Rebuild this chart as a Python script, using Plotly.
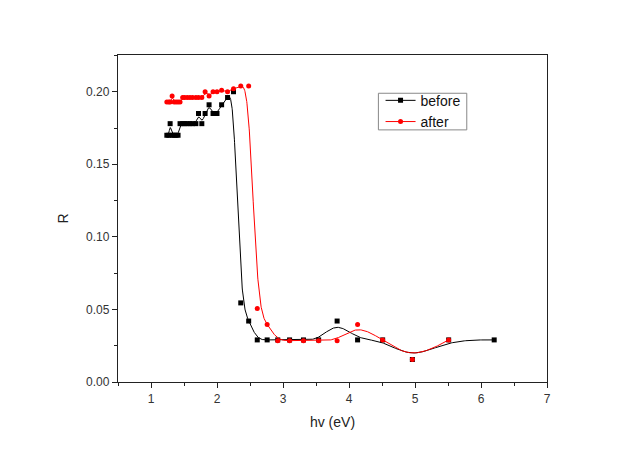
import numpy as np
import plotly.graph_objects as go

# Photon energy (eV) of each measured point
hv_before = [1.24, 1.27, 1.29, 1.32, 1.35, 1.38, 1.41, 1.44, 1.48, 1.51, 1.55, 1.59,
             1.63, 1.68, 1.72, 1.77, 1.82, 1.88, 1.94, 2.00, 2.07, 2.16, 2.25, 2.36,
             2.48, 2.61, 2.76, 2.92, 3.10, 3.31, 3.54, 3.82, 4.13, 4.51, 4.96, 5.51, 6.20]
R_before = [0.170, 0.170, 0.178, 0.170, 0.170, 0.170, 0.170, 0.178, 0.178, 0.178, 0.178, 0.178,
            0.178, 0.178, 0.185, 0.178, 0.185, 0.191, 0.185, 0.185, 0.191, 0.196, 0.200, 0.0545,
            0.042, 0.029, 0.029, 0.029, 0.029, 0.029, 0.029, 0.042, 0.029, 0.029, 0.0155, 0.029, 0.029]

hv_after = [1.24, 1.27, 1.29, 1.32, 1.35, 1.38, 1.41, 1.44, 1.48, 1.51, 1.55, 1.59,
            1.63, 1.68, 1.72, 1.77, 1.82, 1.88, 1.94, 2.00, 2.07, 2.16, 2.25, 2.36,
            2.48, 2.61, 2.76, 2.92, 3.10, 3.31, 3.54, 3.82, 4.13, 4.51, 4.96, 5.51]
R_after = [0.193, 0.193, 0.193, 0.197, 0.193, 0.193, 0.193, 0.193, 0.196, 0.196, 0.196, 0.196,
           0.196, 0.196, 0.196, 0.196, 0.200, 0.197, 0.200, 0.200, 0.201, 0.200, 0.202, 0.204,
           0.204, 0.0506, 0.0396, 0.0285, 0.0285, 0.0285, 0.0285, 0.0285, 0.0396, 0.029, 0.0155, 0.029]

x_ticks = [1, 2, 3, 4, 5, 6, 7]
y_ticks = [0.00, 0.05, 0.10, 0.15, 0.20]


def bspline(xs, ys, n=40):
    """Uniform cubic B-spline using the points as control polygon (ends clamped)."""
    P = np.column_stack([xs, ys]).astype(float)
    P = np.vstack([P[0], P[0], P, P[-1], P[-1]])
    t = np.linspace(0, 1, n, endpoint=False)
    b0 = (1 - t) ** 3 / 6
    b1 = (3 * t ** 3 - 6 * t ** 2 + 4) / 6
    b2 = (-3 * t ** 3 + 3 * t ** 2 + 3 * t + 1) / 6
    b3 = t ** 3 / 6
    out = []
    for i in range(len(P) - 3):
        seg = (np.outer(b0, P[i]) + np.outer(b1, P[i + 1])
               + np.outer(b2, P[i + 2]) + np.outer(b3, P[i + 3]))
        out.append(seg)
    out.append(P[-1][None, :])
    c = np.vstack(out)
    return c[:, 0], c[:, 1]


fig = go.Figure()

for name, xs, ys, color, sym, size in [
    ("before", hv_before, R_before, "#000000", "square", 5),
    ("after", hv_after, R_after, "#ff0000", "circle", 5),
]:
    cx, cy = bspline(xs, ys)
    fig.add_trace(go.Scatter(x=cx, y=cy, mode="lines", line=dict(color=color, width=1),
                             showlegend=False, hoverinfo="skip", legendgroup=name))
    fig.add_trace(go.Scatter(x=xs, y=ys, mode="markers", name=name, legendgroup=name,
                             marker=dict(color=color, symbol=sym, size=size, line=dict(width=0)),
                             showlegend=False))
    # legend entry: line with marker
    fig.add_trace(go.Scatter(x=[None], y=[None], mode="lines+markers", name=name,
                             line=dict(color=color, width=1),
                             marker=dict(color=color, symbol=sym, size=5)))

axis_common = dict(showline=True, linecolor="#222", linewidth=1.3, mirror=True,
                   ticks="outside", tickcolor="#222", tickwidth=1, ticklen=5,
                   showgrid=False, zeroline=False,
                   tickfont=dict(family="Liberation Sans, Arial", size=12, color="#333"))

fig.update_xaxes(range=[0.5, 7], tickvals=x_ticks,
                 minor=dict(dtick=0.5, tick0=0.5, ticks="outside", ticklen=3, tickcolor="#222"),
                 title=dict(text="hv (eV)", font=dict(family="Liberation Sans, Arial", size=14, color="#222"),
                            standoff=12),
                 **axis_common)
fig.update_yaxes(range=[0, 0.2253], tickvals=y_ticks, tickformat=".2f",
                 minor=dict(dtick=0.025, tick0=0, ticks="outside", ticklen=3, tickcolor="#222"),
                 title=dict(text="R", font=dict(family="Liberation Sans, Arial", size=14, color="#222"),
                            standoff=14),
                 **axis_common)

# legend frame
fig.add_shape(type="rect", xref="paper", yref="paper",
              x0=0.607, x1=0.813, y0=0.771, y1=0.883,
              line=dict(color="#888", width=1), fillcolor="white", layer="below")

fig.update_layout(
    width=621, height=450,
    margin=dict(l=118, r=74, t=55, b=68),
    paper_bgcolor="white", plot_bgcolor="white",
    legend=dict(x=0.612, y=0.909, xanchor="left", yanchor="top",
                borderwidth=0, bgcolor="rgba(0,0,0,0)",
                font=dict(family="Liberation Sans, Arial", size=14, color="#111"),
                tracegroupgap=0, itemwidth=30),
)

fig.write_html("out.html")
